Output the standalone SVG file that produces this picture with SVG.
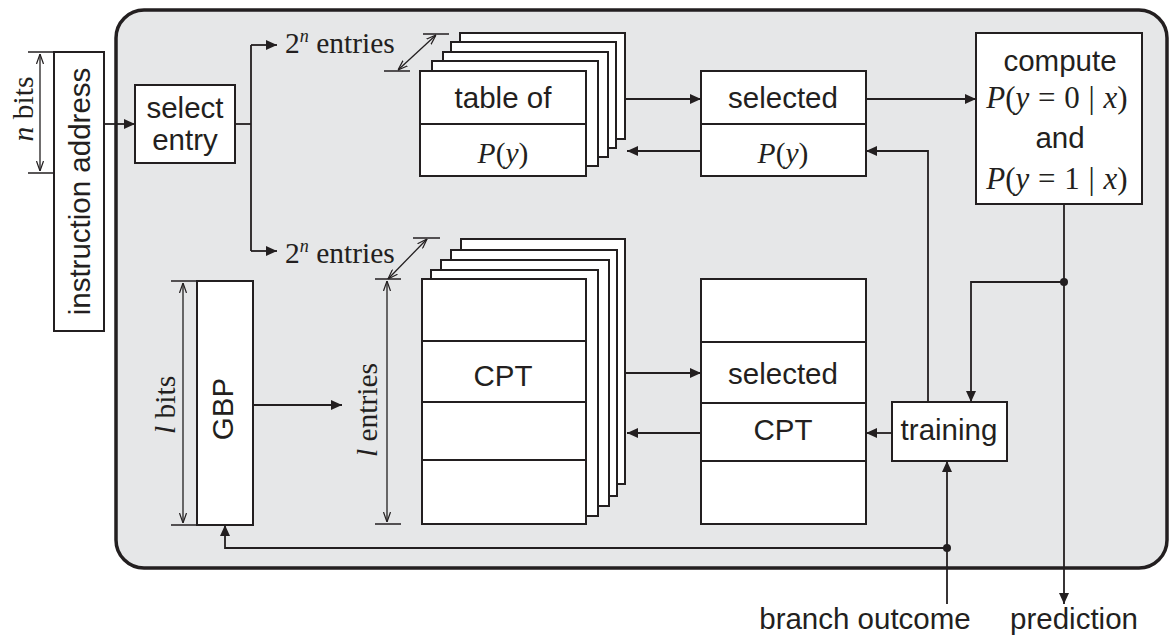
<svg xmlns="http://www.w3.org/2000/svg" width="1173" height="635" viewBox="0 0 1173 635">
  <defs>
    <style>
      .frame { fill: #e6e7e8; stroke: #231f20; stroke-width: 3.5; }
      .box { fill: #ffffff; stroke: #231f20; stroke-width: 2; }
      .ln { fill: none; stroke: #231f20; stroke-width: 1.8; }
      .dim { fill: none; stroke: #231f20; stroke-width: 1.3; }
      .dot { fill: #231f20; }
      .sans { font-family: "Liberation Sans", Arial, Helvetica, sans-serif; font-size: 29.5px; fill: #231f20; text-anchor: middle; }
      .serif { font-family: "Liberation Serif", "Times New Roman", Times, serif; font-size: 29.5px; fill: #231f20; }
      .mid { text-anchor: middle; }
      .it { font-style: italic; }
      .eq { font-size: 31px; word-spacing: 1px; }
    </style>
    <!-- solid arrowhead for signal flow -->
    <marker id="arr" viewBox="0 0 11 10" refX="11" refY="5" markerWidth="11" markerHeight="10" markerUnits="userSpaceOnUse" orient="auto">
      <path d="M0,0 L11,5 L0,10 z" fill="#231f20"/>
    </marker>
    <!-- open arrowhead for dimension lines -->
    <marker id="dimhead" viewBox="0 0 10 8" refX="10" refY="4" markerWidth="10" markerHeight="8" markerUnits="userSpaceOnUse" orient="auto-start-reverse">
      <path d="M0,0.5 L10,4 L0,7.5" fill="none" stroke="#231f20" stroke-width="1.2"/>
    </marker>
  </defs>

  <!-- predictor enclosure -->
  <rect id="predictor" class="frame" x="116" y="10" width="1051" height="558" rx="28" ry="28"/>

  <!-- instruction address register with n-bit width -->
  <g id="instruction-address">
    <rect class="box" x="54" y="52" width="50" height="279"/>
    <text class="sans" transform="translate(90,191.5) rotate(-90)">instruction address</text>
    <path class="dim" d="M28,52 H54 M28,173 H54"/>
    <path class="dim" d="M40,54 V171" marker-start="url(#dimhead)" marker-end="url(#dimhead)"/>
    <text class="serif mid" transform="translate(33,109) rotate(-90)"><tspan class="it">n</tspan> bits</text>
  </g>

  <g id="select-entry">
    <rect class="box" x="135" y="85" width="100" height="78"/>
    <text class="sans" x="185" y="118">select</text>
    <text class="sans" x="185" y="150">entry</text>
  </g>

  <!-- stacked table of P(y), one per entry -->
  <g id="table-py">
    <rect class="box" x="460" y="33" width="165" height="106"/>
    <rect class="box" x="451" y="42" width="165" height="106"/>
    <rect class="box" x="443" y="52" width="165" height="105"/>
    <rect class="box" x="432" y="61" width="166" height="105"/>
    <rect class="box" x="420" y="71" width="166" height="105"/>
    <line class="box" x1="420" y1="124" x2="586" y2="124"/>
    <text class="sans" x="503" y="108">table of</text>
    <text class="serif mid" x="503" y="163"><tspan class="it">P</tspan>(<tspan class="it">y</tspan>)</text>
    <path class="dim" d="M384,71 H410 M423,34 H449"/>
    <path class="dim" d="M398,70 L436,35" marker-start="url(#dimhead)" marker-end="url(#dimhead)"/>
    <text class="serif" x="285" y="53">2<tspan class="it" font-size="18" dy="-11">n</tspan><tspan dy="11"> entries</tspan></text>
  </g>

  <g id="selected-py">
    <rect class="box" x="701" y="71" width="165" height="105"/>
    <line class="box" x1="701" y1="124" x2="866" y2="124"/>
    <text class="sans" x="783" y="108">selected</text>
    <text class="serif mid" x="783" y="163"><tspan class="it">P</tspan>(<tspan class="it">y</tspan>)</text>
  </g>

  <g id="compute">
    <rect class="box" x="976" y="33" width="166" height="171"/>
    <text class="sans" x="1060" y="71">compute</text>
    <text class="serif mid eq" x="1057" y="108"><tspan class="it">P</tspan>(<tspan class="it">y</tspan> = 0 | <tspan class="it">x</tspan>)</text>
    <text class="sans" x="1060" y="148">and</text>
    <text class="serif mid eq" x="1057" y="189"><tspan class="it">P</tspan>(<tspan class="it">y</tspan> = 1 | <tspan class="it">x</tspan>)</text>
  </g>

  <!-- global branch history register -->
  <g id="gbp">
    <rect class="box" x="197" y="281" width="56" height="244"/>
    <text class="sans" transform="translate(233,409) rotate(-90)">GBP</text>
    <path class="dim" d="M171,281 H197 M171,525 H197"/>
    <path class="dim" d="M183,283 V523" marker-start="url(#dimhead)" marker-end="url(#dimhead)"/>
    <text class="serif mid" transform="translate(175,405) rotate(-90)"><tspan class="it">l</tspan> bits</text>
  </g>

  <!-- stacked conditional probability tables -->
  <g id="cpt-stack">
    <rect class="box" x="461" y="239" width="164" height="245"/>
    <rect class="box" x="451" y="250" width="166" height="246"/>
    <rect class="box" x="441" y="260" width="168" height="246"/>
    <rect class="box" x="431" y="270" width="167" height="246"/>
    <rect class="box" x="422" y="279" width="164" height="245"/>
    <path class="box" d="M422,341 H586 M422,402 H586 M422,460 H586"/>
    <text class="sans" x="503" y="386">CPT</text>
    <path class="dim" d="M375,279 H401 M413,238 H440 M375,524 H401"/>
    <path class="dim" d="M388,279 L427,239" marker-start="url(#dimhead)" marker-end="url(#dimhead)"/>
    <path class="dim" d="M387,281 V522" marker-start="url(#dimhead)" marker-end="url(#dimhead)"/>
    <text class="serif mid" transform="translate(377,410) rotate(-90)"><tspan class="it">l</tspan> entries</text>
    <text class="serif" x="285" y="263">2<tspan class="it" font-size="18" dy="-11">n</tspan><tspan dy="11"> entries</tspan></text>
  </g>

  <g id="selected-cpt">
    <rect class="box" x="701" y="279" width="165" height="245"/>
    <path class="box" d="M701,342 H866 M701,403 H866 M701,461 H866"/>
    <text class="sans" x="783" y="384">selected</text>
    <text class="sans" x="783" y="440">CPT</text>
  </g>

  <g id="training">
    <rect class="box" x="892" y="402" width="115" height="59"/>
    <text class="sans" x="949" y="440">training</text>
  </g>

  <!-- external signals -->
  <g id="io-labels">
    <text class="sans" x="865" y="629">branch outcome</text>
    <text class="sans" x="1074" y="629">prediction</text>
  </g>

  <g id="connectors">
    <path class="ln" d="M104,124 H135" marker-end="url(#arr)"/>
    <path class="ln" d="M235,124 H251"/>
    <path class="ln" d="M251,45 V251"/>
    <path class="ln" d="M251,45 H277" marker-end="url(#arr)"/>
    <path class="ln" d="M251,251 H277" marker-end="url(#arr)"/>
    <path class="ln" d="M625,99 H701" marker-end="url(#arr)"/>
    <path class="ln" d="M701,151 H627" marker-end="url(#arr)"/>
    <path class="ln" d="M866,99 H976" marker-end="url(#arr)"/>
    <path class="ln" d="M1064,204 V604" marker-end="url(#arr)"/>
    <path class="ln" d="M1064,282 H971 V402" marker-end="url(#arr)"/>
    <path class="ln" d="M928,402 V151 H866" marker-end="url(#arr)"/>
    <path class="ln" d="M892,433 H866" marker-end="url(#arr)"/>
    <path class="ln" d="M701,433 H627" marker-end="url(#arr)"/>
    <path class="ln" d="M625,373 H701" marker-end="url(#arr)"/>
    <path class="ln" d="M253,405 H342" marker-end="url(#arr)"/>
    <path class="ln" d="M947,604 V461" marker-end="url(#arr)"/>
    <path class="ln" d="M947,548 H225 V525" marker-end="url(#arr)"/>
    <circle class="dot" cx="1064" cy="282" r="4"/>
    <circle class="dot" cx="947" cy="548" r="4"/>
  </g>
</svg>
